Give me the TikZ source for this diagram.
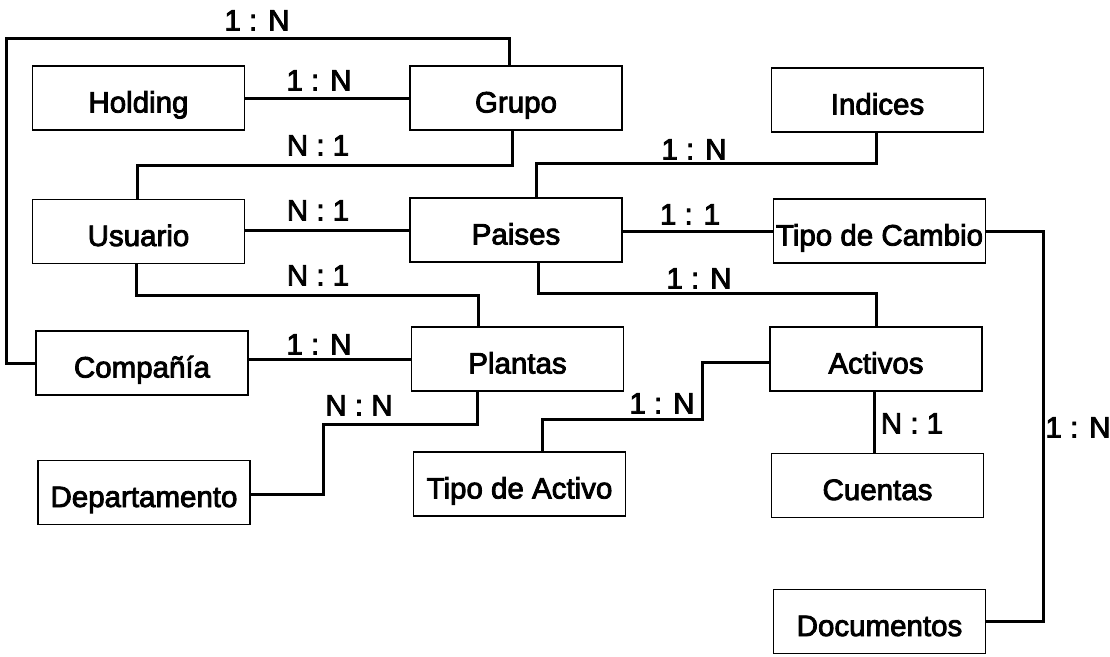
\documentclass[tikz,border=0pt]{standalone}
\usepackage{fontspec}
\setmainfont{Liberation Sans}
% fill and stroke the glyphs, for a slightly heavier face
\newcommand\inkon{\special{pdf:literal direct 2 Tr 0.85 w 0 G}}
\newcommand\inkoff{\special{pdf:literal direct 0 Tr}}
\begin{document}
\begin{tikzpicture}[x=1pt,y=-1pt,
  heavy/.style={execute at begin node=\inkon, execute at end node=\inkoff},
  entity/.style={heavy, draw=black, line width=1.8pt, fill=white, inner sep=0pt,
    minimum width=212pt, minimum height=64pt,
    text height=29pt, text depth=0pt,
    font=\fontsize{29.5}{32}\selectfont},
  card/.style={heavy, inner sep=0pt, text height=21pt, text depth=0pt,
    font=\fontsize{29.5}{32}\selectfont},
  link/.style={line width=3pt, line cap=rect, line join=miter}]
\useasboundingbox (0,0) rectangle (1110,656);

% entities
\node[entity] (holding) at (138.5,98)   {Holding};
\node[entity] (grupo)   at (516,98)     {Grupo};
\node[entity] (indices) at (877.5,100)  {Indices};
\node[entity] (usuario) at (138.5,231.5){Usuario};
\node[entity] (paises)  at (516,230)    {Paises};
\node[entity] (cambio)  at (879.5,231)  {Tipo de Cambio};
\node[entity] (compania)at (142,363)    {Compañía};
\node[entity] (plantas) at (517.5,359)  {Plantas};
\node[entity] (activos) at (876,359)    {Activos};
\node[entity] (depto)   at (144,492.5)  {Departamento};
\node[entity] (tipoact) at (519.5,484)  {Tipo de Activo};
\node[entity] (cuentas) at (877.5,485.5){Cuentas};
\node[entity] (docs)    at (879.5,621.5){Documentos};

% relationships
\draw[link] (holding.east) -- (grupo.west |- holding.east);
\draw[link] (grupo.south -| 512,0) -- (512,165) -- (137,165) -- (usuario.north -| 137,0);
\draw[link] (usuario.east |- paises.west) -- (paises.west);
\draw[link] (usuario.south -| 136,0) -- (136,295) -- (478,295) -- (plantas.north -| 478,0);
\draw[link] (compania.west) -- (6,363) -- (6,38) -- (509,38) -- (grupo.north -| 509,0);
\draw[link] (compania.east |- plantas.west) -- (plantas.west);
\draw[link] (plantas.south -| 477,0) -- (477,424) -- (323,424) -- (323,494) -- (depto.east |- 0,494);
\draw[link] (indices.south -| 876,0) -- (876,163) -- (536,163) -- (paises.north -| 536,0);
\draw[link] (paises.east |- cambio.west) -- (cambio.west);
\draw[link] (paises.south -| 538,0) -- (538,293) -- (876,293) -- (activos.north -| 876,0);
\draw[link] (tipoact.north -| 542,0) -- (542,419) -- (702,419) -- (702,362) -- (activos.west |- 0,362);
\draw[link] (activos.south -| 874,0) -- (cuentas.north -| 874,0);
\draw[link] (cambio.east) -- (1043,231) -- (1043,621.5) -- (docs.east);

% cardinalities
\node[card] (c1)  at (257,20)   {1 : N};
\node[card] (c2)  at (319,80)   {1 : N};
\node[card] (c3)  at (318,145)  {N : 1};
\node[card] (c4)  at (318,210)  {N : 1};
\node[card] (c5)  at (318,275)  {N : 1};
\node[card] (c6)  at (694,149)  {1 : N};
\node[card] (c7)  at (690,214)  {1 : 1};
\node[card] (c8)  at (699,278)  {1 : N};
\node[card] (c9)  at (319,344)  {1 : N};
\node[card] (c10) at (359,405)  {N : N};
\node[card] (c11) at (662,403)  {1 : N};
\node[card] (c12) at (912,423)  {N : 1};
\node[card] (c13) at (1078,427) {1 : N};
\end{tikzpicture}
\end{document}
